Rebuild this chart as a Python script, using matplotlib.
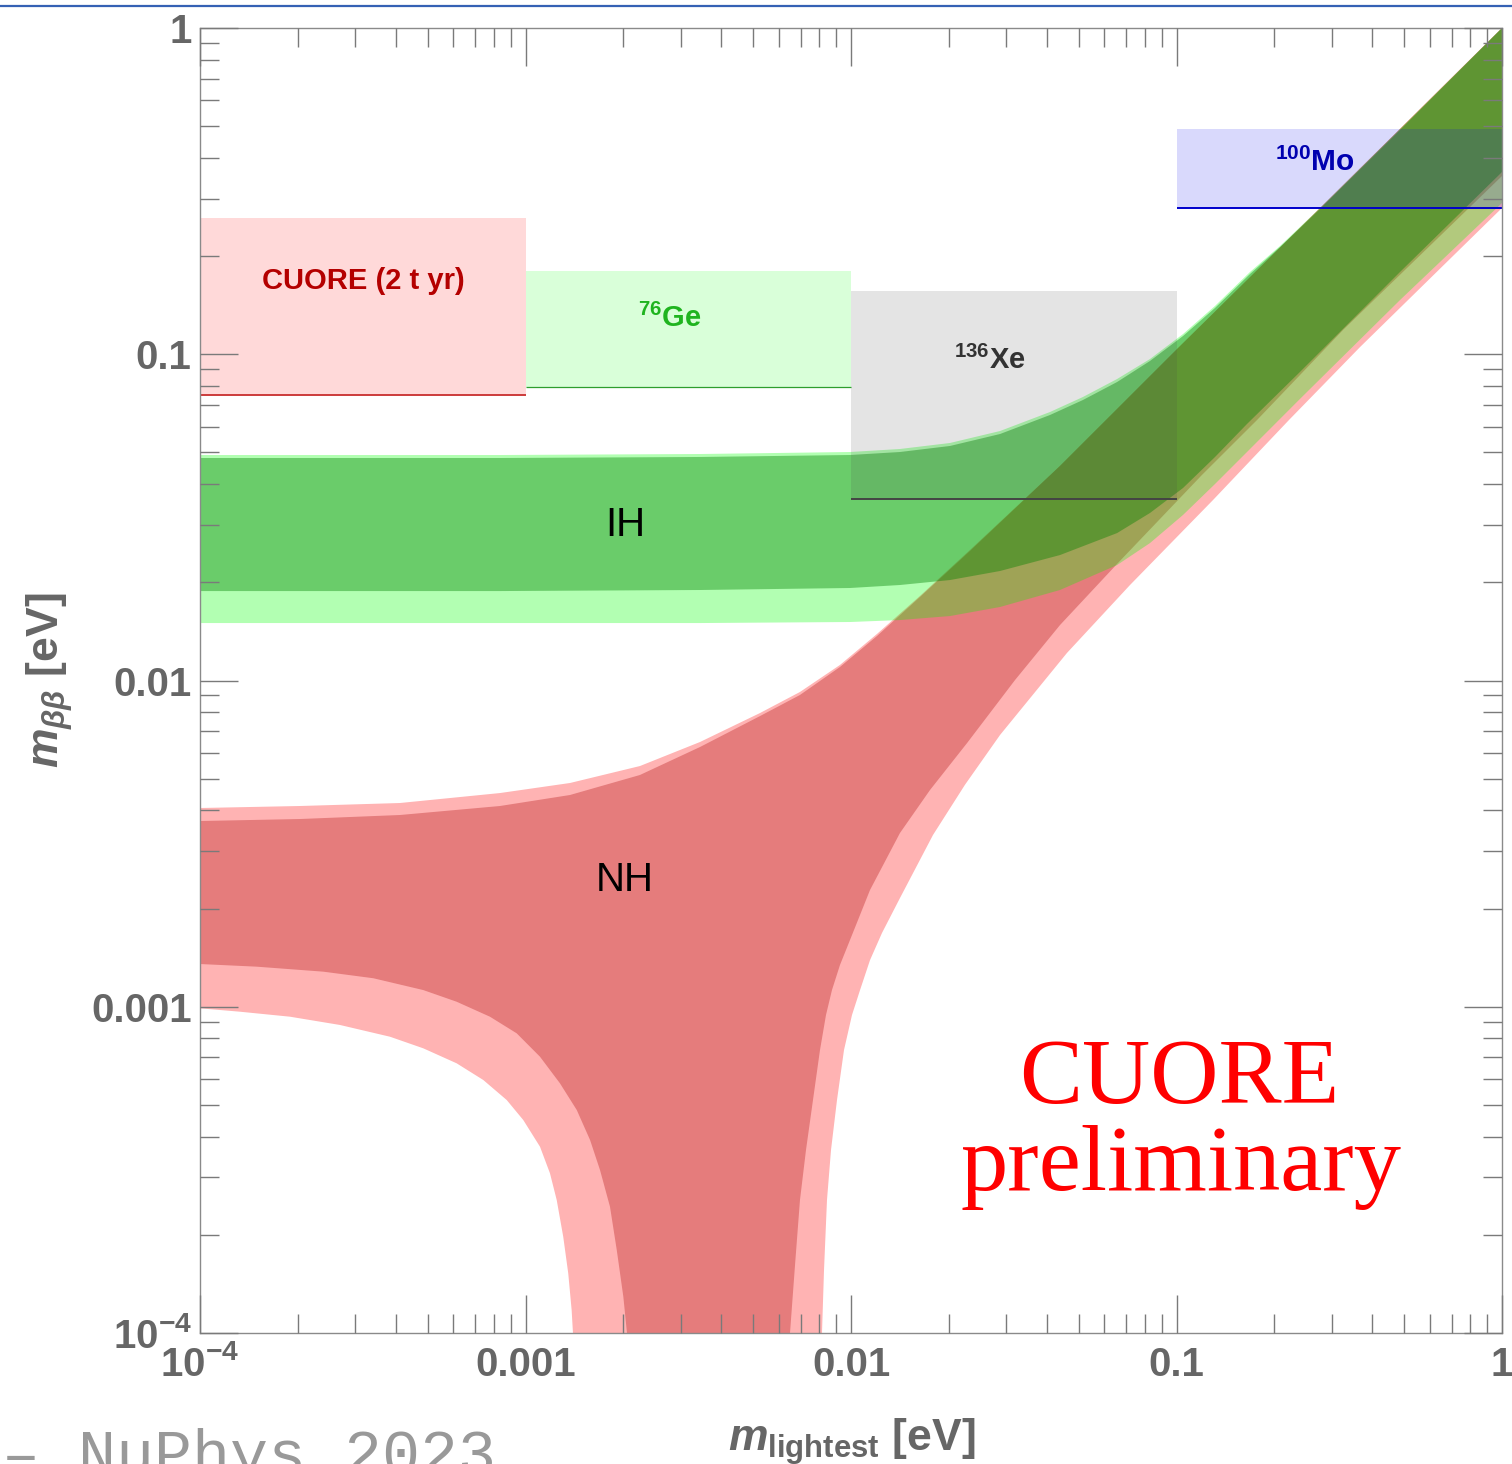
import numpy as np
import matplotlib
matplotlib.use("Agg")
import matplotlib.pyplot as plt
from matplotlib.ticker import LogLocator, NullFormatter
from matplotlib.lines import Line2D

plt.rcParams['font.family'] = ['Liberation Sans', 'DejaVu Sans']
plt.rcParams['mathtext.fontset'] = 'custom'
plt.rcParams['mathtext.rm'] = 'Liberation Sans'
plt.rcParams['mathtext.bf'] = 'Liberation Sans:bold'
plt.rcParams['mathtext.it'] = 'Liberation Sans:italic:bold'

# --- NH (normal hierarchy) band ---
nh_up_x = [1e-4, 2.028e-4, 4.114e-4, 8.35e-4, 1.370e-3, 2.247e-3, 3.437e-3, 5.254e-3,
           6.970e-3, 9.25e-3, 0.01202, 0.01629, 0.02320, 0.04386, 0.09966, 0.2394, 1.0]
nh_up_out = [0.004066, 0.004124, 0.004212, 0.004519, 0.004851, 0.005468, 0.006479, 0.007949,
             0.009222, 0.01116, 0.01389, 0.01816, 0.02512, 0.04545, 0.1030, 0.2438, 1.0]
nh_up_in = [0.003709, 0.003762, 0.003870, 0.004124, 0.004457, 0.005133, 0.006254, 0.007780,
            0.009028, 0.01100, 0.01369, 0.01803, 0.02494, 0.04545, 0.1030, 0.2438, 1.0]

# lower edge, left branch (falls towards zero)
nh_ll_out_x = [1.0e-4, 1.327e-4, 1.890e-4, 2.692e-4, 3.835e-4, 4.853e-4, 6.145e-4, 7.419e-4,
               8.755e-4, 9.844e-4, 1.108e-3, 1.189e-3, 1.247e-3, 1.306e-3, 1.353e-3, 1.386e-3,
               1.399e-3]
nh_ll_out_y = [9.890e-4, 9.656e-4, 9.322e-4, 8.793e-4, 8.093e-4, 7.457e-4, 6.708e-4, 5.963e-4,
               5.178e-4, 4.496e-4, 3.724e-4, 3.087e-4, 2.557e-4, 1.973e-4, 1.524e-4, 1.176e-4,
               1.0e-4]
nh_ll_in_x = [1.0e-4, 1.493e-4, 2.392e-4, 3.406e-4, 4.853e-4, 6.145e-4, 7.776e-4, 9.397e-4,
              1.108e-3, 1.276e-3, 1.437e-3, 1.579e-3, 1.694e-3, 1.818e-3, 1.907e-3, 1.998e-3,
              2.050e-3]
nh_ll_in_y = [1.352e-3, 1.327e-3, 1.281e-3, 1.223e-3, 1.125e-3, 1.036e-3, 9.322e-4, 8.290e-4,
              7.028e-4, 5.826e-4, 4.826e-4, 3.904e-4, 3.159e-4, 2.438e-4, 1.797e-4, 1.292e-4,
              1.0e-4]

# lower edge, right branch (rises again)
nh_lr_out_x = [8.145e-3, 8.262e-3, 8.438e-3, 8.681e-3, 9.057e-3, 9.517e-3, 1.007e-2, 1.066e-2,
               0.01144, 0.01245, 0.01414, 0.01786, 0.02240, 0.02870, 0.04609, 0.07197,
               0.1295, 0.2216, 0.3663, 1.0]
nh_lr_out_y = [1.0e-4, 1.560e-4, 2.557e-4, 3.638e-4, 5.178e-4, 7.368e-4, 9.434e-4, 1.125e-3,
               1.390e-3, 1.683e-3, 2.154e-3, 3.361e-3, 4.792e-3, 6.808e-3, 0.01215, 0.01962,
               0.03575, 0.06288, 0.1052, 0.2808]
nh_lr_in_x = [6.495e-3, 6.730e-3, 6.970e-3, 7.273e-3, 7.642e-3, 8.030e-3, 8.378e-3, 8.740e-3,
              9.250e-3, 9.930e-3, 0.01144, 0.01414, 0.01749, 0.02273, 0.03190, 0.04386,
              0.06566, 0.1197, 0.1768, 0.3248, 1.0]
nh_lr_in_y = [1.0e-4, 1.616e-4, 2.557e-4, 3.638e-4, 5.178e-4, 7.368e-4, 9.434e-4, 1.125e-3,
              1.343e-3, 1.602e-3, 2.280e-3, 3.409e-3, 4.618e-3, 6.432e-3, 1.003e-2, 1.479e-2,
              2.276e-2, 4.265e-2, 6.288e-2, 0.1187, 0.3519]

# --- IH (inverted hierarchy) band ---
ih_up_x = [1e-4, 8.36e-4, 3.437e-3, 9.93e-3, 0.01414, 0.02014, 0.0287, 0.04088, 0.0516,
           0.0657, 0.0829, 0.1047, 0.1313, 0.1682, 0.2080, 0.2760, 0.486, 1.0]
ih_up_out = [0.04911, 0.04911, 0.04946, 0.05016, 0.05124, 0.05346, 0.05817, 0.06653, 0.07396,
             0.08397, 0.09670, 0.1153, 0.1406, 0.1787, 0.2147, 0.2808, 0.4901, 1.0]
ih_up_in = [0.04808, 0.04808, 0.04843, 0.04911, 0.05016, 0.05234, 0.05695, 0.06514, 0.07241,
            0.08221, 0.09535, 0.1137, 0.1386, 0.1762, 0.2132, 0.2788, 0.4867, 1.0]

ih_lo_in_x = [1e-4, 8.36e-4, 3.437e-3, 9.93e-3, 0.01414, 0.02014, 0.0287, 0.04386, 0.0657,
              0.0829, 0.1047, 0.1313, 0.1646, 0.2394, 0.486, 1.0]
ih_lo_in_y = [0.01880, 0.01880, 0.01894, 0.01921, 0.01962, 0.02032, 0.02166, 0.02424, 0.02831,
              0.03262, 0.03890, 0.04842, 0.06111, 0.08822, 0.1787, 0.3619]
ih_lo_out_x = [1e-4, 8.36e-4, 3.437e-3, 9.93e-3, 0.01414, 0.02014, 0.0287, 0.04386, 0.0657,
               0.0829, 0.1047, 0.1313, 0.1682, 0.2394, 0.486, 1.0]
ih_lo_out_y = [0.01500, 0.01500, 0.01500, 0.01511, 0.01532, 0.01576, 0.01680, 0.01894, 0.02259,
               0.02638, 0.03216, 0.04002, 0.05124, 0.07292, 0.1466, 0.2908]

# --- experimental limits (boxes) ---
box_names = ['CUORE', 'Ge76', 'Xe136', 'Mo100']
box_x0 = [1e-4, 1e-3, 1e-2, 0.1]
box_x1 = [1e-3, 1e-2, 0.1, 1.0]
box_lo = [0.075, 0.0794, 0.0361, 0.281]
box_hi = [0.262, 0.180, 0.1566, 0.490]
box_fill = ['#ff0000', '#00ff00', '#4b4b4b', '#0000f0']
box_edge = ['#cc3b3b', '#2e9e2e', '#444444', '#0000cc']

xticks = [1e-4, 1e-3, 1e-2, 0.1, 1.0]
xtick_labels = [r'$\mathbf{10^{-4}}$', '0.001', '0.01', '0.1', '1']
yticks = [1e-4, 1e-3, 1e-2, 0.1, 1.0]
ytick_labels = [r'$\mathbf{10^{-4}}$', '0.001', '0.01', '0.1', '1']

floor = 1e-6  # below the axis, closes the NH funnel

fig = plt.figure(figsize=(15.12, 14.64), dpi=100)
ax = fig.add_axes([200 / 1512, 1 - 1333 / 1464, 1302 / 1512, 1305 / 1464])
ax.set_xscale('log')
ax.set_yscale('log')


def nh_polygon(up_y, ll_x, ll_y, lr_x, lr_y):
    xs = list(nh_up_x) + lr_x[::-1] + [lr_x[0], ll_x[-1]] + ll_x[::-1]
    ys = list(up_y) + lr_y[::-1] + [floor, floor] + ll_y[::-1]
    return xs, ys


# NH bands (opaque)
xs, ys = nh_polygon(nh_up_out, nh_ll_out_x, nh_ll_out_y, nh_lr_out_x, nh_lr_out_y)
ax.fill(xs, ys, color='#ffb3b3', lw=0, zorder=1)
xs, ys = nh_polygon(nh_up_in, nh_ll_in_x, nh_ll_in_y, nh_lr_in_x, nh_lr_in_y)
ax.fill(xs, ys, color='#e57c7c', lw=0, zorder=1.1)

# IH bands (transparent green on top)
ax.fill(ih_up_x + ih_lo_out_x[::-1], ih_up_out + ih_lo_out_y[::-1],
        color='#00ff00', alpha=0.30, lw=0, zorder=2)
ax.fill(ih_up_x + ih_lo_in_x[::-1], ih_up_in + ih_lo_in_y[::-1],
        color='#008000', alpha=0.40, lw=0, zorder=2.1)

# limit boxes
for i in range(len(box_names)):
    ax.fill_between([box_x0[i], box_x1[i]], [box_lo[i]] * 2, [box_hi[i]] * 2,
                    color=box_fill[i], alpha=0.15, lw=0, zorder=3)
    ax.plot([box_x0[i], box_x1[i]], [box_lo[i]] * 2, color=box_edge[i],
            lw=1.4 if i != 1 else 0.9, solid_capstyle='butt', zorder=3.5)

ax.text(3.17e-4, 0.1677, 'CUORE (2 t yr)', color='#b40000', fontsize=21,
        fontweight='bold', ha='center', va='center', zorder=6)
ax.text(2.78e-3, 0.129, r'$^{\mathbf{76}}$Ge', color='#1fb41f', fontsize=21,
        fontweight='bold', ha='center', va='center', zorder=6)
ax.text(0.0267, 0.096, r'$^{\mathbf{136}}$Xe', color='#333333', fontsize=21,
        fontweight='bold', ha='center', va='center', zorder=6)
ax.text(0.266, 0.388, r'$^{\mathbf{100}}$Mo', color='#0000b0', fontsize=21.5,
        fontweight='bold', ha='center', va='center', zorder=6)

ax.text(2.02e-3, 0.0300, 'IH', fontsize=29, color='black', ha='center', va='center', zorder=6)
ax.text(2.02e-3, 0.00245, 'NH', fontsize=29, color='black', ha='center', va='center', zorder=6)

ax.text(0.752, 0.1762, 'CUORE', transform=ax.transAxes, family='Liberation Serif',
        fontsize=68, color='#ff0000', ha='center', va='baseline', zorder=6)
ax.text(0.7535, 0.1095, 'preliminary', transform=ax.transAxes, family='Liberation Serif',
        fontsize=68, color='#ff0000', ha='center', va='baseline', zorder=6)

ax.set_xlim(1e-4, 1)
ax.set_ylim(1e-4, 1)

ax.set_xticks(xticks, xtick_labels, fontweight='bold')
ax.set_yticks(yticks, ytick_labels, fontweight='bold')
ax.xaxis.set_minor_locator(LogLocator(base=10, subs=np.arange(2, 10), numticks=20))
ax.yaxis.set_minor_locator(LogLocator(base=10, subs=np.arange(2, 10), numticks=20))
ax.xaxis.set_minor_formatter(NullFormatter())
ax.yaxis.set_minor_formatter(NullFormatter())

ax.tick_params(which='both', direction='in', top=True, right=True, color='#7a7a7a',
               width=1.0, labelcolor='#666666', labelsize=29)
ax.tick_params(which='major', length=27.5)
ax.tick_params(which='minor', length=13.5)
ax.tick_params(axis='x', pad=9)
ax.tick_params(axis='y', pad=6)

for sp in ax.spines.values():
    sp.set_color('#8a8a8a')
    sp.set_linewidth(1.0)
    sp.set_zorder(10)
ax.xaxis.set_zorder(10)
ax.yaxis.set_zorder(10)

# axis titles
fig.text(50 / 1512, 1 - 680 / 1464, r'$m_{\beta\beta}$ [eV]', rotation=90,
         fontsize=32, fontweight='bold', color='#666666', ha='center', va='center')
fig.text(852 / 1512, 13 / 1464, r'$m_{\mathbf{lightest}}$ [eV]',
         fontsize=32, fontweight='bold', color='#666666', ha='center', va='baseline')

# slide decorations
fig.add_artist(Line2D([0, 1], [1 - 5.5 / 1464] * 2, transform=fig.transFigure,
                      color='#3561b4', lw=1.6))
fig.text(2 / 1512, -10 / 1464, '– NuPhys 2023', family='Liberation Mono',
         fontsize=45.5, color='#999999', ha='left', va='baseline')

fig.savefig('out.png', dpi=100)
